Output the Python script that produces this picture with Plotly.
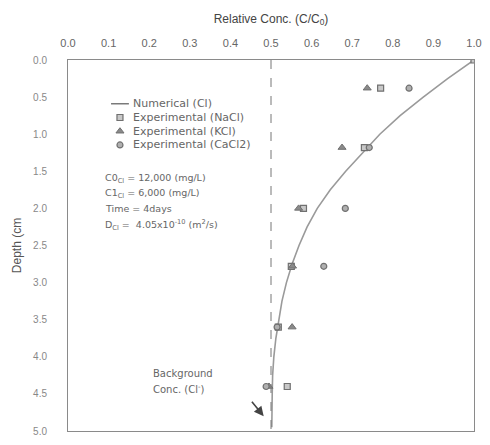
import plotly.graph_objects as go

# Numerical curve (Cl)
num_depth = [0.0, 0.25, 0.5, 0.75, 1.0, 1.25, 1.5, 1.75, 2.0, 2.25, 2.5, 2.75,
             3.0, 3.25, 3.5, 3.75, 4.0, 4.25, 4.5, 4.75, 4.95]
num_conc = [1.0, 0.935, 0.875, 0.818, 0.768, 0.725, 0.684, 0.646, 0.614, 0.589,
            0.569, 0.552, 0.538, 0.527, 0.519, 0.512, 0.507, 0.504, 0.503, 0.502, 0.502]

# Experimental data
nacl_depth = [0.0, 0.38, 1.18, 2.0, 2.78, 3.6, 4.4]
nacl_conc = [1.0, 0.77, 0.73, 0.58, 0.55, 0.518, 0.54]

kcl_depth = [0.38, 1.18, 2.0, 2.78, 3.6, 4.4]
kcl_conc = [0.737, 0.675, 0.568, 0.553, 0.552, 0.495]

cacl2_depth = [0.38, 1.18, 2.0, 2.78, 3.6, 4.4]
cacl2_conc = [0.84, 0.742, 0.683, 0.63, 0.515, 0.488]

x_ticks = [0.0, 0.1, 0.2, 0.3, 0.4, 0.5, 0.6, 0.7, 0.8, 0.9, 1.0]
y_ticks = [0.0, 0.5, 1.0, 1.5, 2.0, 2.5, 3.0, 3.5, 4.0, 4.5, 5.0]

legend_names = ["Numerical (Cl)", "Experimental (NaCl)", "Experimental (KCl)",
                "Experimental (CaCl2)"]
info_lines = ["C0<sub>Cl</sub> = 12,000 (mg/L)",
              "C1<sub>Cl</sub> = 6,000 (mg/L)",
              "Time = 4days",
              "D<sub>Cl</sub> =  4.05x10<sup>-10</sup> (m<sup>2</sup>/s)"]

GRAY = "#8a8a8a"
TXT = "#5a5a5a"
LINE_C = "#9a9a9a"
SQ = dict(symbol="square", size=6, color="#c8c8c8", line=dict(color="#707070", width=1.2))
TRI = dict(symbol="triangle-up", size=7, color="#8a8a8a", line=dict(color="#707070", width=1))
CIR = dict(symbol="circle", size=6, color="#b0b0b0", line=dict(color="#707070", width=1.2))

fig = go.Figure()
fig.add_trace(go.Scatter(x=num_conc, y=num_depth, mode="lines", name=legend_names[0],
                         line=dict(color=LINE_C, width=1.6), showlegend=False))
fig.add_trace(go.Scatter(x=nacl_conc, y=nacl_depth, mode="markers", name=legend_names[1],
                         marker=SQ, showlegend=False))
fig.add_trace(go.Scatter(x=kcl_conc, y=kcl_depth, mode="markers", name=legend_names[2],
                         marker=TRI, showlegend=False))
fig.add_trace(go.Scatter(x=cacl2_conc, y=cacl2_depth, mode="markers", name=legend_names[3],
                         marker=CIR, showlegend=False))

# reference line at background concentration
fig.add_shape(type="line", x0=0.5, x1=0.5, y0=0, y1=5, xref="x", yref="y",
              line=dict(color="#777777", width=1, dash="dash"))

# ---- manual legend (compact row spacing like the reference) ----
leg_x_sym = 0.128
leg_x_txt = 0.155
leg_rows = [0.59, 0.775, 0.96, 1.145]
fig.add_shape(type="line", x0=0.106, x1=0.150, y0=leg_rows[0], y1=leg_rows[0],
              xref="x", yref="y", line=dict(color="#666666", width=1.3))
fig.add_trace(go.Scatter(x=[leg_x_sym], y=[leg_rows[1]], mode="markers", marker=SQ,
                         showlegend=False, hoverinfo="skip"))
fig.add_trace(go.Scatter(x=[leg_x_sym], y=[leg_rows[2]], mode="markers", marker=TRI,
                         showlegend=False, hoverinfo="skip"))
fig.add_trace(go.Scatter(x=[leg_x_sym], y=[leg_rows[3]], mode="markers", marker=CIR,
                         showlegend=False, hoverinfo="skip"))
for name, r in zip(legend_names, leg_rows):
    fig.add_annotation(x=leg_x_txt, y=r, xref="x", yref="y", text=name, showarrow=False,
                       xanchor="left", yanchor="middle",
                       font=dict(size=11, color="#666666", family="DejaVu Sans"))

fig.update_layout(
    width=490, height=445,
    margin=dict(l=68, r=8, t=60, b=10),
    paper_bgcolor="white", plot_bgcolor="white",
    font=dict(family="Liberation Sans, Arial", color=TXT),
    showlegend=False,
    xaxis=dict(side="top", range=[0, 1.0], tickvals=x_ticks,
               ticktext=[f"{v:.1f}" for v in x_ticks],
               showgrid=False, zeroline=False, showline=True, mirror=True,
               linecolor=GRAY, linewidth=1, ticks="",
               ticklabelstandoff=8,
               tickfont=dict(size=11, color="#666666"),
               title=dict(text="Relative Conc. (C/C<sub>0</sub>)", standoff=10,
                          font=dict(size=12, color="#444444"))),
    yaxis=dict(range=[5.0, 0.0], tickvals=y_ticks,
               ticktext=[f"{v:.1f}" for v in y_ticks],
               showgrid=False, zeroline=False, showline=True, mirror=True,
               linecolor=GRAY, linewidth=1, ticks="",
               ticklabelstandoff=18,
               tickfont=dict(size=10, color="#888888"),
               title=dict(text="Depth (cm", standoff=8,
                          font=dict(size=12, color="#555555"))),
)

info_depth = [1.6, 1.8, 2.0, 2.22]
for txt, d in zip(info_lines, info_depth):
    fig.add_annotation(x=0.085, y=d, xref="x", yref="y", text=txt, showarrow=False,
                       xanchor="left", font=dict(size=9.5, color="#666666", family="DejaVu Sans"))

fig.add_annotation(x=0.205, y=4.22, xref="x", yref="y", text="Background", showarrow=False,
                   xanchor="left", font=dict(size=10, color="#666666", family="DejaVu Sans"))
fig.add_annotation(x=0.205, y=4.43, xref="x", yref="y", text="Conc. (Cl<sup>-</sup>)",
                   showarrow=False, xanchor="left",
                   font=dict(size=10, color="#666666", family="DejaVu Sans"))
fig.add_annotation(x=0.482, y=4.8, xref="x", yref="y", ax=-13, ay=-16, text="",
                   showarrow=True, arrowhead=2, arrowsize=1.2, arrowwidth=1.6,
                   arrowcolor="#444444")

fig.write_html("out.html")
